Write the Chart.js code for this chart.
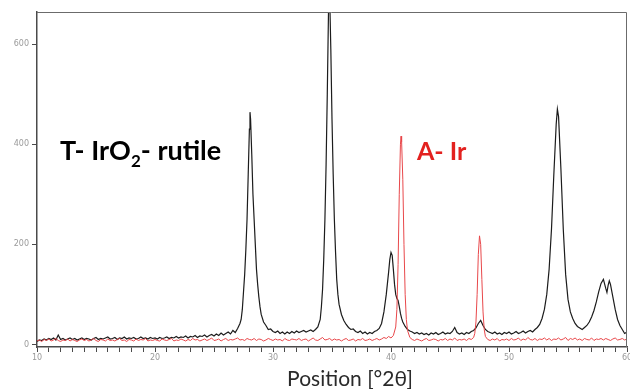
<!DOCTYPE html>
<html>
<head>
<meta charset="utf-8">
<script src="https://cdn.jsdelivr.net/npm/chart.js@4/dist/chart.umd.min.js"></script>
<style>
  html, body { margin: 0; padding: 0; background: #ffffff; }
  #wrap { width: 630px; height: 389px; position: relative; }
</style>
</head>
<body>
<div id="wrap"><canvas id="c" width="630" height="389"></canvas></div>
<script>
// ---- DATA ----
const xTickValues = [10, 20, 30, 40, 50, 60];
const yTickValues = [0, 200, 400, 600];
const axisTitle = 'Position [°2θ]';
const labelRutile = ['T- IrO', '2', '- rutile'];
const labelIr = 'A- Ir';

// T- IrO2 rutile pattern: [2θ, counts]
const rutileScan = [
  [10.0,6],[10.2,9],[10.4,8],[10.6,11],[10.8,9],[11.0,12],[11.2,10],[11.4,13],[11.6,9],[11.8,19],
  [12.0,10],[12.2,12],[12.4,9],[12.6,11],[12.8,13],[13.0,10],[13.2,12],[13.4,9],[13.6,11],[13.8,13],
  [14.0,10],[14.2,12],[14.4,11],[14.6,9],[14.8,12],[15.0,14],[15.2,10],[15.4,12],[15.6,11],[15.8,13],
  [16.0,15],[16.2,11],[16.4,12],[16.6,14],[16.8,10],[17.0,13],[17.2,12],[17.4,15],[17.6,11],[17.8,13],
  [18.0,12],[18.2,14],[18.4,11],[18.6,12],[18.8,15],[19.0,12],[19.2,13],[19.4,11],[19.6,14],[19.8,12],
  [20.0,13],[20.2,11],[20.4,14],[20.6,12],[20.8,13],[21.0,15],[21.2,12],[21.4,14],[21.6,13],[21.8,16],
  [22.0,13],[22.2,15],[22.4,14],[22.6,17],[22.8,13],[23.0,16],[23.2,15],[23.4,18],[23.6,14],[23.8,17],
  [24.0,16],[24.2,19],[24.4,15],[24.6,18],[24.8,20],[25.0,17],[25.2,21],[25.4,18],[25.6,23],[25.8,19],
  [26.0,22],[26.2,25],[26.4,21],[26.6,28],[26.8,24],[27.0,32],[27.2,42],[27.3,50],[27.4,70],[27.5,105],
  [27.6,140],[27.7,190],[27.8,250],[27.9,340],[28.0,430],[28.05,464],[28.1,450],[28.2,380],[28.3,300],[28.4,250],
  [28.5,200],[28.6,150],[28.7,120],[28.8,95],[28.9,75],[29.0,60],[29.2,45],[29.4,38],[29.6,30],[29.8,31],
  [30.0,26],[30.2,24],[30.4,27],[30.6,22],[30.8,25],[31.0,21],[31.2,25],[31.4,22],[31.6,26],[31.8,23],
  [32.0,27],[32.2,24],[32.4,26],[32.6,28],[32.8,25],[33.0,27],[33.2,29],[33.4,26],[33.6,30],[33.8,35],
  [34.0,50],[34.1,75],[34.2,110],[34.3,170],[34.4,250],[34.5,360],[34.6,500],[34.7,660],[34.75,720],[34.8,700],
  [34.9,590],[35.0,450],[35.1,340],[35.2,250],[35.3,185],[35.4,130],[35.5,100],[35.6,80],[35.8,60],[36.0,48],
  [36.2,40],[36.4,34],[36.6,30],[36.8,31],[37.0,26],[37.2,24],[37.4,27],[37.6,22],[37.8,25],[38.0,21],
  [38.2,24],[38.4,22],[38.6,26],[38.8,28],[39.0,32],[39.2,42],[39.4,65],[39.6,100],[39.8,145],[39.9,170],
  [40.0,184],[40.1,178],[40.2,150],[40.3,120],[40.4,100],[40.5,92],[40.6,88],[40.7,76],[40.8,62],[40.9,52],
  [41.0,45],[41.2,36],[41.4,30],[41.6,27],[41.8,25],[42.0,22],[42.2,24],[42.4,21],[42.6,23],[42.8,20],
  [43.0,22],[43.2,19],[43.4,23],[43.6,21],[43.8,24],[44.0,20],[44.2,22],[44.4,25],[44.6,21],[44.8,23],
  [45.0,22],[45.2,26],[45.4,34],[45.6,24],[45.8,21],[46.0,23],[46.2,20],[46.4,24],[46.6,22],[46.8,26],
  [47.0,28],[47.2,33],[47.4,42],[47.6,48],[47.8,38],[48.0,30],[48.2,26],[48.4,24],[48.6,22],[48.8,25],
  [49.0,21],[49.2,23],[49.4,20],[49.6,24],[49.8,22],[50.0,25],[50.2,21],[50.4,23],[50.6,26],[50.8,22],
  [51.0,24],[51.2,27],[51.4,23],[51.6,26],[51.8,28],[52.0,25],[52.2,30],[52.4,34],[52.6,40],[52.8,52],
  [53.0,70],[53.2,100],[53.4,150],[53.6,230],[53.8,340],[54.0,440],[54.1,470],[54.2,455],[54.4,350],[54.6,230],
  [54.8,140],[55.0,90],[55.2,65],[55.4,52],[55.6,42],[55.8,36],[56.0,33],[56.2,30],[56.4,34],[56.6,38],
  [56.8,45],[57.0,55],[57.2,68],[57.4,85],[57.6,105],[57.8,122],[58.0,130],[58.2,112],[58.3,104],[58.4,118],
  [58.5,127],[58.6,120],[58.8,95],[59.0,70],[59.2,50],[59.4,38],[59.6,30],[59.8,22],[60.0,25]
];

// A- Ir pattern: [2θ, counts]
const iridiumScan = [
  [10.0,7],[10.2,9],[10.4,6],[10.6,10],[10.8,8],[11.0,11],[11.2,7],[11.4,9],[11.6,12],[11.8,8],
  [12.0,6],[12.2,9],[12.4,8],[12.6,11],[12.8,7],[13.0,10],[13.2,8],[13.4,6],[13.6,9],[13.8,11],
  [14.0,8],[14.2,10],[14.4,7],[14.6,9],[14.8,12],[15.0,8],[15.2,6],[15.4,10],[15.6,9],[15.8,7],
  [16.0,11],[16.2,8],[16.4,9],[16.6,7],[16.8,10],[17.0,12],[17.2,8],[17.4,9],[17.6,6],[17.8,10],
  [18.0,9],[18.2,7],[18.4,11],[18.6,8],[18.8,10],[19.0,9],[19.2,12],[19.4,7],[19.6,9],[19.8,8],
  [20.0,10],[20.2,8],[20.4,7],[20.6,11],[20.8,9],[21.0,8],[21.2,10],[21.4,12],[21.6,7],[21.8,9],
  [22.0,8],[22.2,11],[22.4,9],[22.6,7],[22.8,10],[23.0,8],[23.2,12],[23.4,9],[23.6,10],[23.8,7],
  [24.0,9],[24.2,11],[24.4,8],[24.6,10],[24.8,13],[25.0,8],[25.2,9],[25.4,11],[25.6,7],[25.8,10],
  [26.0,12],[26.2,8],[26.4,10],[26.6,9],[26.8,11],[27.0,13],[27.2,9],[27.4,10],[27.6,8],[27.8,12],
  [28.0,10],[28.2,9],[28.4,12],[28.6,8],[28.8,11],[29.0,10],[29.2,7],[29.4,9],[29.6,12],[29.8,10],
  [30.0,8],[30.2,11],[30.4,9],[30.6,10],[30.8,7],[31.0,12],[31.2,9],[31.4,8],[31.6,11],[31.8,10],
  [32.0,9],[32.2,12],[32.4,8],[32.6,10],[32.8,11],[33.0,7],[33.2,10],[33.4,13],[33.6,9],[33.8,8],
  [34.0,11],[34.2,14],[34.4,9],[34.6,10],[34.8,12],[35.0,8],[35.2,11],[35.4,9],[35.6,10],[35.8,7],
  [36.0,10],[36.2,12],[36.4,8],[36.6,9],[36.8,11],[37.0,7],[37.2,10],[37.4,9],[37.6,12],[37.8,8],
  [38.0,9],[38.2,11],[38.4,8],[38.6,10],[38.8,12],[39.0,9],[39.2,11],[39.4,14],[39.6,12],[39.8,16],
  [40.0,13],[40.2,18],[40.4,35],[40.5,70],[40.6,160],[40.7,300],[40.8,400],[40.85,416],[40.9,405],[41.0,330],
  [41.1,200],[41.2,100],[41.3,50],[41.4,28],[41.6,14],[41.8,10],
  [42.0,8],[42.2,11],[42.4,9],[42.6,7],[42.8,10],[43.0,12],[43.2,8],[43.4,9],[43.6,11],[43.8,10],
  [44.0,7],[44.2,10],[44.4,9],[44.6,12],[44.8,8],[45.0,11],[45.2,9],[45.4,13],[45.6,8],[45.8,10],
  [46.0,9],[46.2,11],[46.4,8],[46.6,12],[46.8,10],
  [47.0,14],[47.1,22],[47.2,45],[47.3,100],[47.4,180],[47.5,217],[47.6,200],[47.7,130],[47.8,65],[47.9,30],
  [48.0,16],[48.2,10],[48.4,8],[48.6,11],[48.8,9],[49.0,12],[49.2,7],[49.4,10],[49.6,9],[49.8,11],
  [50.0,8],[50.2,12],[50.4,9],[50.6,10],[50.8,13],[51.0,8],[51.2,11],[51.4,9],[51.6,14],[51.8,10],
  [52.0,9],[52.2,12],[52.4,8],[52.6,11],[52.8,10],[53.0,13],[53.2,9],[53.4,12],[53.6,8],[53.8,11],
  [54.0,10],[54.2,13],[54.4,9],[54.6,11],[54.8,14],[55.0,8],[55.2,12],[55.4,10],[55.6,13],[55.8,9],
  [56.0,11],[56.2,8],[56.4,12],[56.6,10],[56.8,9],[57.0,13],[57.2,8],[57.4,11],[57.6,10],[57.8,12],
  [58.0,9],[58.2,12],[58.4,10],[58.6,8],[58.8,11],[59.0,13],[59.2,9],[59.4,10],[59.6,12],[59.8,9],
  [60.0,11]
];

// ---- CHART ----
const toPoints = scan => scan.map(([a, c]) => ({ x: a, y: c }));

const framePlugin = {
  id: 'frameAndLabels',
  afterDatasetsDraw(chart) {
    const { ctx, chartArea: a, scales: { x, y } } = chart;
    ctx.save();
    // frame (top / right)
    ctx.strokeStyle = '#6b6b6b';
    ctx.lineWidth = 1;
    ctx.beginPath();
    ctx.moveTo(a.left, a.top + 0.5);
    ctx.lineTo(a.right - 0.5, a.top + 0.5);
    ctx.lineTo(a.right - 0.5, a.bottom);
    ctx.stroke();

    // T- IrO2- rutile
    ctx.fillStyle = '#000000';
    ctx.textBaseline = 'alphabetic';
    ctx.textAlign = 'left';
    let px = x.getPixelForValue(11.95);
    const py = y.getPixelForValue(368);
    ctx.font = 'bold 27px Lato';
    ctx.fillText(labelRutile[0], px, py);
    px += ctx.measureText(labelRutile[0]).width;
    ctx.font = 'bold 17px Lato';
    ctx.fillText(labelRutile[1], px, py + 7);
    px += ctx.measureText(labelRutile[1]).width;
    ctx.font = 'bold 27px Lato';
    ctx.fillText(labelRutile[2], px, py);

    // A- Ir
    ctx.fillStyle = '#e3211f';
    ctx.font = 'bold 25px Lato';
    ctx.fillText(labelIr, x.getPixelForValue(42.2), py);

    // axis title
    ctx.fillStyle = '#2a2a2a';
    ctx.font = '21px Lato';
    ctx.textAlign = 'center';
    ctx.fillText(axisTitle, (a.left + a.right) / 2 + 18, chart.height - 3);
    ctx.restore();
  }
};

new Chart(document.getElementById('c'), {
  type: 'line',
  data: {
    datasets: [
      {
        label: 'A- Ir',
        data: toPoints(iridiumScan),
        borderColor: '#e8474a',
        borderWidth: 1,
        pointRadius: 0,
        tension: 0,
        fill: false
      },
      {
        label: 'T- IrO2- rutile',
        data: toPoints(rutileScan),
        borderColor: '#1c1c1c',
        borderWidth: 1.2,
        pointRadius: 0,
        tension: 0,
        fill: false
      }
    ]
  },
  options: {
    responsive: false,
    animation: false,
    events: [],
    layout: { padding: { top: 12, right: 0, left: 0, bottom: 0 } },
    plugins: { legend: { display: false }, tooltip: { enabled: false } },
    scales: {
      x: {
        type: 'linear',
        min: 10,
        max: 60,
        afterFit(s) { s.height = 42; s.paddingRight = 3; },
        border: { color: '#4a4a4a', width: 1.5 },
        grid: { drawOnChartArea: false, tickLength: 5, color: '#4a4a4a', tickWidth: 1 },
        ticks: {
          stepSize: 1,
          autoSkip: false,
          maxRotation: 0,
          color: '#9a9a9a',
          font: { size: 8, family: 'DejaVu Sans' },
          padding: 1,
          callback: v => (xTickValues.includes(v) ? String(v) : '')
        }
      },
      y: {
        min: -5,
        max: 664,
        afterFit(s) { s.width = 37; },
        afterBuildTicks(s) { s.ticks = yTickValues.map(v => ({ value: v })); },
        border: { color: '#4a4a4a', width: 1.5 },
        grid: { drawOnChartArea: false, tickLength: 5, color: '#4a4a4a' },
        ticks: {
          color: '#9a9a9a',
          font: { size: 8, family: 'DejaVu Sans' },
          padding: 3
        }
      }
    }
  },
  plugins: [framePlugin]
});
</script>
</body>
</html>
